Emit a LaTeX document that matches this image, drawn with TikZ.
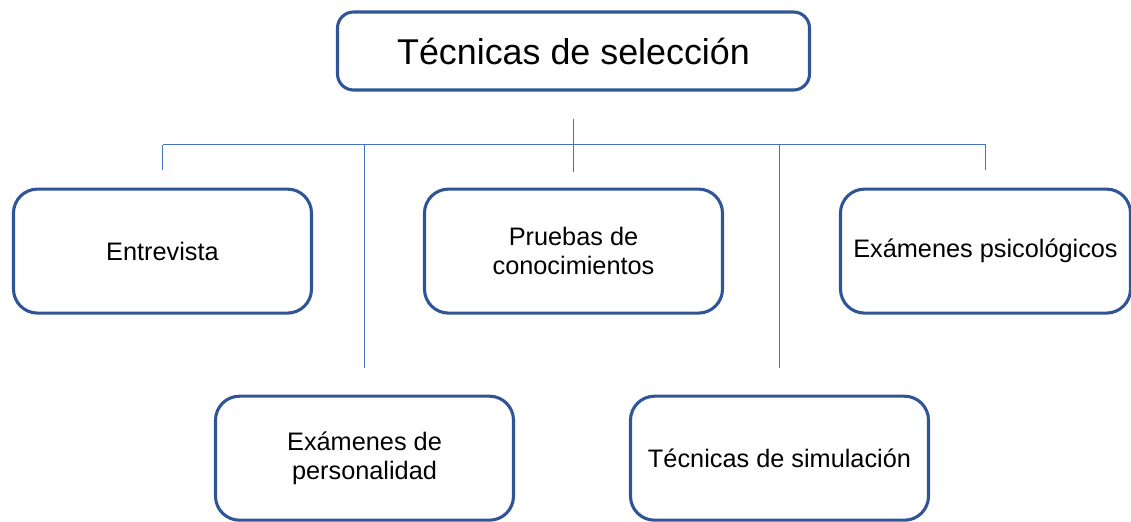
\documentclass[tikz,border=0pt]{standalone}
\usepackage{fontspec}
\setmainfont{Liberation Sans}
\usetikzlibrary{positioning}

\definecolor{boxblue}{HTML}{2F5597}
\definecolor{lineblue}{HTML}{4472C4}

\tikzset{
  rootbox/.style={draw=boxblue, line width=2.2pt, rounded corners=0.4cm,
    minimum width=11.8cm, minimum height=1.95cm, font=\fontsize{25.5}{30}\selectfont},
  techbox/.style={draw=boxblue, line width=2.2pt, rounded corners=0.6cm,
    minimum width=7.45cm, minimum height=3.1cm, align=center,
    font=\fontsize{18}{21}\selectfont},
  conn/.style={draw=lineblue, line width=1.3pt}
}

\begin{document}
\begin{tikzpicture}

  \useasboundingbox (0,0) rectangle (28.275,-13.05);

  % Define nodes
  \node[rootbox]                                   (root) at (14.3375,-1.275) {Técnicas de selección};
  \node[techbox, below=2.4cm of root, xshift=-10.275cm] (entrevista) {Entrevista};
  \node[techbox, below=2.4cm of root]               (pruebas) {Pruebas de\\conocimientos};
  \node[techbox, below=2.4cm of root, xshift=10.3cm, minimum width=7.25cm] (psico) {Exámenes psicológicos};
  \node[techbox, below=2.0cm of pruebas, xshift=-5.225cm] (personalidad) {Exámenes de\\personalidad};
  \node[techbox, below=2.0cm of pruebas, xshift=5.15cm]   (simulacion) {Técnicas de simulación};

  % Bus line
  \coordinate (bus) at ([yshift=-1.325cm]root.south);

  % Connect the nodes
  \draw[conn] ([yshift=-0.675cm]root.south) -- ([yshift=-2cm]root.south);
  \draw[conn] (entrevista.north |- bus) -- (psico.north |- bus);
  \draw[conn] (entrevista.north |- bus) -- ([yshift=0.45cm]entrevista.north);
  \draw[conn] (psico.north |- bus) -- ([yshift=0.45cm]psico.north);
  \draw[conn] (personalidad.north |- bus) -- ([yshift=0.675cm]personalidad.north);
  \draw[conn] (simulacion.north |- bus) -- ([yshift=0.675cm]simulacion.north);

\end{tikzpicture}
\end{document}
